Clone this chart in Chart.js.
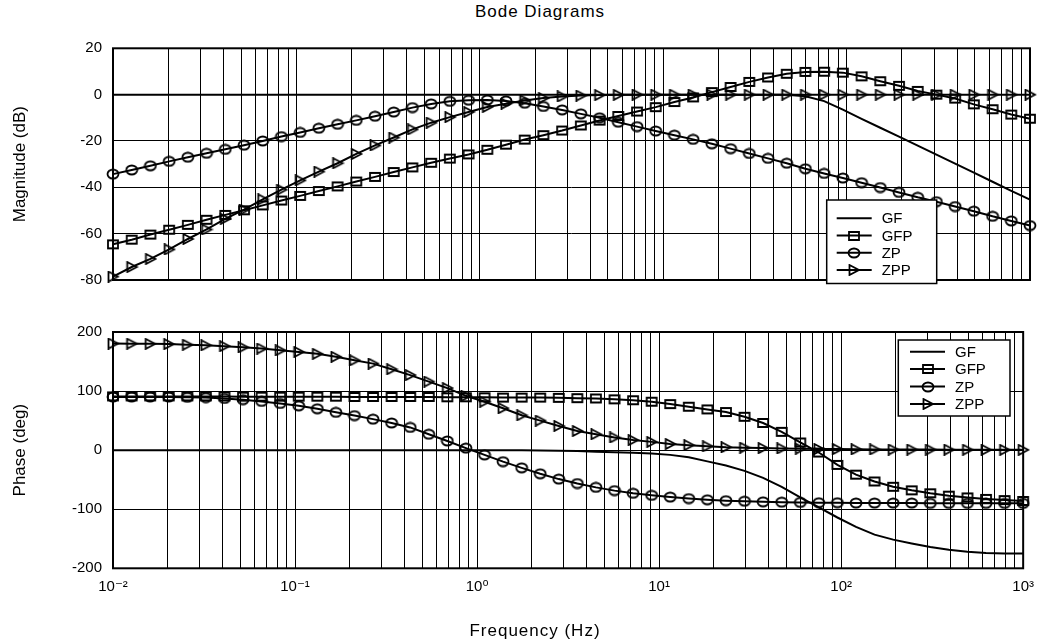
<!DOCTYPE html>
<html>
<head>
<meta charset="utf-8">
<title>Bode Diagrams</title>
<script src="https://cdn.jsdelivr.net/npm/chart.js@4/dist/chart.umd.min.js"></script>
<style>
  html, body { margin: 0; padding: 0; background: #fff; }
  #page { position: relative; width: 1044px; height: 644px; overflow: hidden;
          font-family: "Liberation Sans", Arial, "DejaVu Sans", sans-serif; color: #000; }
  #page canvas { position: absolute; left: 0; }
  .caption { position: absolute; width: 300px; text-align: center; font-size: 17px;
             line-height: 20px; letter-spacing: 1px; white-space: nowrap; }
</style>
</head>
<body>
<div id="page">
  <div class="caption" style="left:390px; top:2px;">Bode Diagrams</div>
  <canvas id="magChart" width="1044" height="300" style="top:0;"></canvas>
  <canvas id="phaseChart" width="1044" height="344" style="top:300px;"></canvas>
  <div class="caption" style="left:385px; top:621px;">Frequency (Hz)</div>
</div>

<script>
// Frequency points (Hz), logarithmically spaced from 0.01 to 1000
const freqHz = [
  0.01, 0.01265, 0.016, 0.02024, 0.0256, 0.03237, 0.04095, 0.0518, 0.06551, 0.08286,
  0.1048, 0.1326, 0.1677, 0.2121, 0.2683, 0.3393, 0.4292, 0.5429, 0.6866, 0.8685,
  1.099, 1.389, 1.758, 2.223, 2.812, 3.556, 4.498, 5.69, 7.197, 9.103,
  11.51, 14.56, 18.42, 23.3, 29.47, 37.28, 47.15, 59.64, 75.43, 95.41,
  120.7, 152.6, 193.1, 244.2, 308.9, 390.7, 494.2, 625.1, 790.6, 1000
];

const seriesNames = ['GF', 'GFP', 'ZP', 'ZPP'];

// Magnitude (dB)
const gfMag = [
  0, 0, 0, 0, 0, 0, 0, 0, 0, 0,
  0, 0, 0, 0, 0, 0, 0, 0, 0, 0,
  0, 0, 0, 0, 0, 0, 0, 0, 0, 0,
  0, 0, 0, 0, 0, 0, -0.1, -0.7, -2.8, -6.5,
  -10.5, -14.3, -18.1, -22.0, -25.9, -29.8, -33.7, -37.6, -41.5, -45.3
];
const gfpMag = [
  -64.6, -62.6, -60.4, -58.3, -56.2, -54.0, -51.9, -49.9, -47.8, -45.7,
  -43.7, -41.6, -39.6, -37.5, -35.5, -33.4, -31.4, -29.4, -27.6, -25.8,
  -23.8, -21.6, -19.4, -17.5, -15.5, -13.3, -11.2, -9.2, -7.3, -5.4,
  -3.2, -1.2, 1.1, 3.3, 5.5, 7.4, 9.0, 9.8, 9.9, 9.5,
  7.9, 5.8, 3.8, 1.6, 0.0, -1.7, -4.2, -6.3, -8.6, -10.4
];
const zpMag = [
  -34.3, -32.5, -30.7, -28.8, -27.0, -25.3, -23.6, -21.8, -20.0, -18.1,
  -16.3, -14.5, -12.8, -11.1, -9.3, -7.5, -5.6, -4.0, -2.9, -2.4,
  -2.3, -2.7, -3.7, -5.1, -6.6, -8.3, -10.0, -11.9, -13.8, -15.7,
  -17.5, -19.3, -21.2, -23.3, -25.4, -27.5, -29.6, -32.0, -34.0, -36.0,
  -38.0, -40.1, -42.2, -44.3, -46.2, -48.3, -50.3, -52.5, -54.5, -56.5
];
const zppMag = [
  -78.5, -74.4, -70.9, -66.8, -62.3, -58.2, -53.6, -49.6, -45.2, -41.0,
  -37.0, -33.2, -29.6, -25.6, -21.9, -18.5, -15.0, -12.1, -9.7, -7.5,
  -5.3, -3.9, -2.5, -1.5, -0.8, -0.4, -0.2, -0.1, 0, 0,
  0, 0, 0, 0, 0, 0, 0, 0, 0, 0,
  0, 0, 0, 0, 0, 0, 0, 0, 0, 0
];

// Phase (deg)
const gfPhase = [
  0, 0, 0, 0, 0, 0, 0, 0, 0, 0,
  0, 0, 0, 0, 0, 0, 0, 0, 0, 0,
  0, 0, 0, -0.5, -1, -1.5, -2.5, -3.5, -4.5, -5.5,
  -8, -12, -19, -26, -35, -47, -62, -80, -97, -114,
  -130, -143, -151.5, -158, -164, -168.5, -172, -174, -175, -175
];
const gfpPhase = [
  91, 91, 91, 91, 91, 91, 91, 90.5, 90.5, 90.5,
  90.5, 90.5, 90.5, 90, 90, 90, 90, 90, 89.5, 89.5,
  89.5, 89, 89, 89, 88.5, 88, 87.5, 86, 84.5, 82,
  78, 73.5, 69, 64.5, 56.5, 46, 31, 13, -4, -25,
  -41.5, -53, -62, -68, -73, -77, -80, -82.5, -84.5, -86
];
const zpPhase = [
  90, 90, 90, 90, 89.5, 89, 87.5, 85.5, 82.5, 79,
  75, 70, 64, 58.5, 52.5, 46, 38.5, 27, 15.5, 3.5,
  -8, -19.5, -30, -40, -49, -56.5, -63, -68.5, -73, -76.5,
  -79.5, -82, -84, -85.5, -86.5, -87.5, -88, -88.5, -89, -89,
  -89.5, -89.5, -89.5, -89.5, -90, -90, -90, -90, -90, -90
];
const zppPhase = [
  180.5, 180.3, 180, 179.5, 178.5, 177.5, 176, 174, 172, 169,
  166.3, 163, 158, 152, 146.5, 137, 127, 116, 105, 92,
  82, 71, 59, 50, 41, 32.5, 27, 21.5, 17, 14,
  10.5, 8.5, 6.5, 5, 4.2, 3.5, 3, 2.5, 2, 1.8,
  1.5, 1.3, 1.1, 1, 0.9, 0.8, 0.7, 0.6, 0.5, 0.5
];

// Axis ticks
const magTicks = [-80, -60, -40, -20, 0, 20];
const phaseTicks = [-200, -100, 0, 100, 200];
const decadeValues = [0.01, 0.1, 1, 10, 100, 1000];
const decadeLabels = ['10\u207B\u00B2', '10\u207B\u00B9', '10\u2070', '10\u00B9', '10\u00B2', '10\u00B3'];

const FONT = '"Liberation Sans", Arial, "DejaVu Sans", sans-serif';
Chart.defaults.font.family = FONT;
Chart.defaults.color = '#000';

// Hollow marker glyphs used for the line series
function markerImage(kind) {
  const c = document.createElement('canvas');
  c.width = 14; c.height = 12;
  const g = c.getContext('2d');
  g.strokeStyle = '#000';
  g.lineWidth = 1.8;
  g.beginPath();
  if (kind === 'square') {
    g.rect(2, 2, 10, 8);
  } else if (kind === 'ellipse') {
    g.ellipse(7, 6, 5.5, 4.5, 0, 0, Math.PI * 2);
  } else {
    g.moveTo(2.5, 1);
    g.lineTo(12, 6);
    g.lineTo(2.5, 11);
    g.closePath();
  }
  g.stroke();
  return c;
}
const markers = [null, markerImage('square'), markerImage('ellipse'), markerImage('triangle')];

function buildDatasets(seriesValues) {
  return seriesNames.map((name, s) => ({
    label: name,
    data: freqHz.map((f, i) => ({ x: f, y: seriesValues[s][i] })),
    borderColor: '#000',
    borderWidth: 2,
    tension: 0,
    fill: false,
    clip: false,
    pointStyle: markers[s] || 'circle',
    pointRadius: markers[s] ? 6 : 0,
    pointHoverRadius: markers[s] ? 6 : 0,
    pointBorderWidth: 0
  }));
}

// Log grid: 1..9 x each decade
function logGridTicks(scale) {
  const ticks = [];
  for (let d = 0; d < decadeValues.length - 1; d++) {
    for (let m = 1; m <= 9; m++) {
      ticks.push({ value: m === 1 ? decadeValues[d] : m * decadeValues[d], major: m === 1 });
    }
  }
  ticks.push({ value: decadeValues[decadeValues.length - 1], major: true });
  scale.ticks = ticks;
}
function decadeLabel(value) {
  const i = decadeValues.indexOf(value);
  return i >= 0 ? decadeLabels[i] : '';
}

const plotFrame = {
  id: 'plotFrame',
  beforeDatasetsDraw(chart) {
    const { ctx, chartArea: a } = chart;
    ctx.save();
    ctx.lineWidth = 2;
    ctx.strokeStyle = '#000';
    ctx.strokeRect(a.left, a.top, a.right - a.left, a.bottom - a.top);
    ctx.restore();
  }
};

const boxLegend = {
  id: 'boxLegend',
  afterDraw(chart, args, o) {
    const { ctx, chartArea: a } = chart;
    const x = a.left + o.x, y = a.top + o.y;
    ctx.save();
    ctx.fillStyle = '#fff';
    ctx.fillRect(x, y, o.w, o.h);
    ctx.lineWidth = 1.5;
    ctx.strokeStyle = '#000';
    ctx.strokeRect(x, y, o.w, o.h);
    ctx.font = '15px ' + FONT;
    ctx.textBaseline = 'middle';
    ctx.fillStyle = '#000';
    chart.data.datasets.forEach((ds, i) => {
      const cy = y + o.rowTop + i * o.rowGap;
      ctx.beginPath();
      ctx.lineWidth = 2;
      ctx.moveTo(x + o.lineX0, cy);
      ctx.lineTo(x + o.lineX1, cy);
      ctx.stroke();
      if (ds.pointRadius > 0 && typeof ds.pointStyle === 'object') {
        const img = ds.pointStyle;
        ctx.drawImage(img, Math.round(x + (o.lineX0 + o.lineX1) / 2 - img.width / 2),
                           Math.round(cy - img.height / 2));
      }
      ctx.fillText(ds.label, x + o.textX, cy + 1);
    });
    ctx.restore();
  }
};

const gridStyle = { color: '#000', lineWidth: 1, drawTicks: false };

function makeChart(canvasId, cfg) {
  return new Chart(document.getElementById(canvasId), {
    type: 'line',
    data: { datasets: buildDatasets(cfg.values) },
    options: {
      responsive: false,
      animation: false,
      events: [],
      layout: { padding: { left: 0, right: 14, top: cfg.padTop, bottom: 0 } },
      plugins: {
        legend: { display: false },
        tooltip: { enabled: false },
        title: { display: false },
        boxLegend: cfg.legend
      },
      scales: {
        x: {
          type: 'logarithmic',
          min: decadeValues[0],
          max: decadeValues[decadeValues.length - 1],
          afterBuildTicks: logGridTicks,
          grid: gridStyle,
          border: { display: false },
          ticks: {
            display: cfg.showX,
            autoSkip: false,
            maxRotation: 0,
            padding: 10,
            font: { size: 15 },
            color: '#000',
            callback: decadeLabel
          },
          afterFit: (s) => { s.height = cfg.xHeight; }
        },
        y: {
          type: 'linear',
          min: cfg.yTicks[0],
          max: cfg.yTicks[cfg.yTicks.length - 1],
          afterBuildTicks: (s) => { s.ticks = cfg.yTicks.map(v => ({ value: v })); },
          grid: gridStyle,
          border: { display: false },
          ticks: { padding: 11, font: { size: 15 }, color: '#000' },
          title: {
            display: true,
            text: cfg.yTitle,
            font: { size: 17 },
            color: '#000',
            padding: { top: 10, bottom: 0 }
          },
          afterFit: (s) => { s.width = 113; }
        }
      }
    },
    plugins: [plotFrame, boxLegend]
  });
}

makeChart('magChart', {
  values: [gfMag, gfpMag, zpMag, zppMag],
  yTicks: magTicks,
  yTitle: 'Magnitude (dB)',
  padTop: 48.3,
  xHeight: 13.3,
  showX: false,
  legend: { x: 713.7, y: 151.7, w: 110, h: 83.5, rowTop: 18.3, rowGap: 17.2,
            lineX0: 10, lineX1: 45, textX: 55 }
});

makeChart('phaseChart', {
  values: [gfPhase, gfpPhase, zpPhase, zppPhase],
  yTicks: phaseTicks,
  yTitle: 'Phase (deg)',
  padTop: 32,
  xHeight: 75.7,
  showX: true,
  legend: { x: 785.3, y: 8, w: 111.7, h: 76, rowTop: 11.7, rowGap: 17.4,
            lineX0: 11.7, lineX1: 46.7, textX: 56.7 }
});
</script>
</body>
</html>
